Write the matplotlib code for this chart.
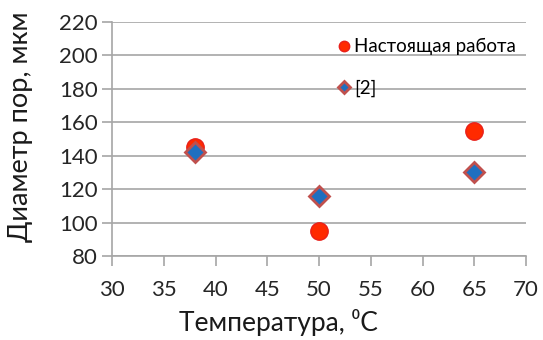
import matplotlib
matplotlib.use("Agg")
import matplotlib.pyplot as plt

plt.rcParams["font.family"] = ["Lato", "DejaVu Sans"]

# data
temps = [38, 50, 65]
own_work = [145, 95, 155]      # Настоящая работа
ref_2 = [142, 116, 130]        # [2]

x_ticks = list(range(30, 71, 5))
y_ticks = list(range(80, 221, 20))

fig = plt.figure(figsize=(5.43, 3.40), dpi=100)
ax = fig.add_axes([112 / 543, 1 - 256 / 340, 414 / 543, 234 / 340])

ax.plot(temps, own_work, "o", ms=12.5, color="#ff2a00", mec="#e8201a", mew=1,
        label="Настоящая работа", zorder=3)
ax.plot(temps, ref_2, "D", ms=10, color="#1f6fc0", mec="#c0504d", mew=2,
        label="[2]", zorder=4)

ax.set_xlim(30, 70)
ax.set_ylim(80, 220)
ax.set_xticks(x_ticks)
ax.set_yticks(y_ticks)
ax.yaxis.grid(True, color="#a6a6a6", lw=1.2)
ax.set_axisbelow(True)
for side in ("top", "right"):
    ax.spines[side].set_visible(False)
for side in ("left", "bottom"):
    ax.spines[side].set_color("#a6a6a6")
    ax.spines[side].set_linewidth(1.2)
ax.tick_params(axis="both", colors="#a6a6a6", width=1.2, length=7,
               labelsize=16, labelcolor="#262626")
ax.tick_params(axis="x", pad=10)
ax.tick_params(axis="y", pad=3)

ax.set_xlabel("Температура, \u2070C", fontsize=19, color="#1a1a1a")
ax.set_ylabel("Диаметр пор, мкм", fontsize=19.5, color="#1a1a1a")
ax.xaxis.set_label_coords(0.403, -0.228)
ax.yaxis.set_label_coords(-0.19, 0.551)

ax.legend(loc="upper left", bbox_to_anchor=(330 / 543, 1 - 29 / 340),
          bbox_transform=fig.transFigure, frameon=False, fontsize=13.5,
          markerscale=0.6, handlelength=0.5, handletextpad=0.3,
          labelspacing=1.3, borderpad=0)

fig.savefig("out.png", dpi=100)
